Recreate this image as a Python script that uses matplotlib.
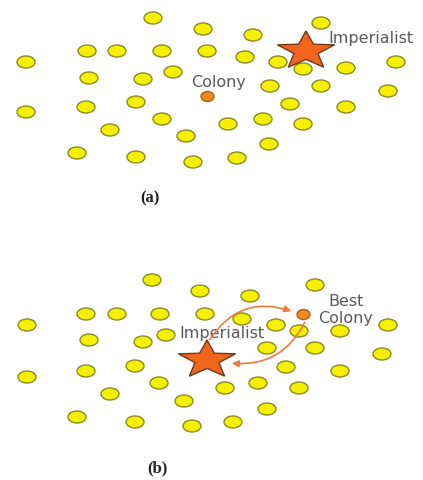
import numpy as np
import matplotlib.pyplot as plt
from matplotlib.collections import EllipseCollection
from matplotlib.patches import Polygon, FancyArrowPatch

# panel (a): country positions (pixel space of the figure)
a_x = [153, 203, 253, 321, 87, 117, 162, 207, 245, 278, 303, 346, 396, 26,
       89, 143, 173, 270, 321, 388, 26, 86, 136, 290, 346, 162, 110, 228,
       263, 303, 186, 269, 77, 136, 193, 237]
a_y = [19, 30, 36, 24, 52, 52, 52, 52, 58, 63, 70, 69, 63, 63,
       79, 80, 73, 87, 87, 92, 113, 108, 103, 105, 108, 120, 131, 125,
       120, 125, 137, 145, 154, 158, 163, 159]
a_colony = (207, 97)
a_imperialist = (306, 52)

# panel (b)
b_x = [152, 200, 250, 315, 86, 117, 160, 205, 242, 276, 299, 340, 388, 27,
       89, 143, 166, 267, 315, 382, 27, 86, 135, 286, 340, 159, 110, 225,
       258, 299, 184, 267, 77, 135, 192, 233]
b_y = [281, 292, 297, 286, 315, 315, 315, 315, 320, 326, 332, 332, 326, 326,
       341, 343, 336, 349, 349, 355, 378, 372, 367, 368, 372, 384, 395, 389,
       384, 389, 402, 410, 418, 423, 427, 423]
b_colony = (303, 315)
b_imperialist = (207, 361)

fig = plt.figure(figsize=(4.23, 4.81), dpi=100)
ax = fig.add_axes([0, 0, 1, 1])
ax.set_xlim(0, 423)
ax.set_ylim(481, 0)
ax.axis('off')


def dots(xs, ys, w, h, face, edge, z=2):
    pts = np.column_stack([xs, ys])
    n = len(pts)
    ec = EllipseCollection(np.full(n, w), np.full(n, h), np.zeros(n), units='xy',
                           offsets=pts, offset_transform=ax.transData,
                           facecolors=face, edgecolors=edge, linewidths=1.0, zorder=z)
    ax.add_collection(ec)


def star(cx, cy, rx, ry):
    ang = np.pi / 2 + np.arange(10) * np.pi / 5
    r = np.where(np.arange(10) % 2 == 0, 1.0, 0.42)
    verts = np.column_stack([cx + rx * r * np.cos(ang), cy - ry * r * np.sin(ang)])
    ax.add_patch(Polygon(verts, closed=True, facecolor='#f2651c', edgecolor='#6b3a1a',
                         linewidth=1.0, zorder=5))


yellow, yedge = '#f5f000', '#8c8a22'
txt = '#5a5a5a'
sans = 'DejaVu Sans'

# (a)
dots(a_x, a_y, 18, 12, yellow, yedge)
dots([a_colony[0]], [a_colony[1]], 13, 10, '#f08a1c', '#a8621a', z=3)
star(*a_imperialist, 30, 20)
ax.text(328, 38, 'Imperialist', fontsize=11.5, color=txt, va='center', ha='left',
        family=sans)
ax.text(219, 83, 'Colony', fontsize=11.5, color=txt, va='center', ha='center',
        family=sans)
ax.text(150, 198, '(a)', fontsize=12, color='#222222', va='center', ha='center',
        family='Liberation Serif', fontweight='bold')

# (b)
dots(b_x, b_y, 18, 12, yellow, yedge)
dots([b_colony[0]], [b_colony[1]], 13, 10, '#f08a1c', '#a8621a', z=3)
star(*b_imperialist, 30, 20)
ax.text(222, 334, 'Imperialist', fontsize=11.5, color=txt, va='center', ha='center',
        family=sans, zorder=4)
ax.text(346, 310, 'Best\nColony', fontsize=11.5, color=txt, va='center', ha='center',
        family=sans, linespacing=1.15, zorder=4)
ax.text(157, 468, '(b)', fontsize=12, color='#222222', va='center', ha='center',
        family='Liberation Serif', fontweight='bold')

arrow_kw = dict(arrowstyle='-|>', mutation_scale=10, color='#f07a3a', linewidth=1.2, zorder=4)
ax.add_patch(FancyArrowPatch((b_imperialist[0] + 1, b_imperialist[1] - 18),
                             (b_colony[0] - 9, b_colony[1] - 2),
                             connectionstyle='arc3,rad=-0.4', **arrow_kw))
ax.add_patch(FancyArrowPatch((b_colony[0] + 3, b_colony[1] + 6),
                             (b_imperialist[0] + 22, b_imperialist[1] + 3),
                             connectionstyle='arc3,rad=-0.35', **arrow_kw))

fig.savefig('out.png', dpi=100)
